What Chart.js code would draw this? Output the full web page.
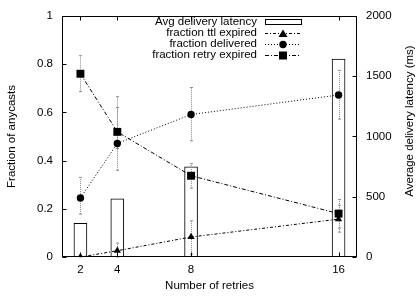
<!DOCTYPE html>
<html>
<head>
<meta charset="utf-8">
<script src="https://cdn.jsdelivr.net/npm/chart.js@4.4.1/dist/chart.umd.min.js"></script>
<style>
html,body{margin:0;padding:0;background:#fff;}
#wrap{width:417px;height:296px;position:relative;}
</style>
</head>
<body>
<div id="wrap"><canvas id="c" width="417" height="296"></canvas></div>
<script>
const retries = [2, 4, 8, 16];
const latencyMs = [279, 482, 748, 1642];
const ttlExpired = [0.0, 0.026, 0.083, 0.157];
const ttlLow = [0.0, 0.0, 0.012, 0.103];
const ttlHigh = [0.004, 0.058, 0.150, 0.215];
const delivered = [0.245, 0.471, 0.591, 0.672];
const deliveredLow = [0.178, 0.36, 0.482, 0.572];
const deliveredHigh = [0.33, 0.62, 0.703, 0.774];
const retryExpired = [0.760, 0.519, 0.337, 0.180];
const retryLow = [0.686, 0.45, 0.286, 0.12];
const retryHigh = [0.835, 0.665, 0.387, 0.238];
const xTicks = [2, 4, 8, 16];
const yTicks = [0, 0.2, 0.4, 0.6, 0.8, 1];
const y2Ticks = [0, 500, 1000, 1500, 2000];
const y2Title = 'Average delivery latency (ms)';

const FONT = "'Liberation Sans', Arial, sans-serif";
const FS = 11.5;
const pts = (ys) => retries.map((x, i) => ({x: x, y: ys[i]}));

const errorSets = [
  {low: ttlLow, high: ttlHigh},
  {low: deliveredLow, high: deliveredHigh},
  {low: retryLow, high: retryHigh}
];

const legendItems = [
  {label: 'Avg delivery latency', kind: 'bar'},
  {label: 'fraction ttl expired', kind: 'line', dash: [3,2,1,2], point: 'triangle'},
  {label: 'fraction delivered', kind: 'line', dash: [1,2], point: 'circle'},
  {label: 'fraction retry expired', kind: 'line', dash: [4,2,1,2], point: 'rect'}
];

const deco = {
  id: 'deco',
  afterDatasetDraw(chart, args) {
    if (args.meta.type !== 'bar') return;
    const ctx = chart.ctx, xs = chart.scales.x, ys = chart.scales.y;
    ctx.save();
    ctx.strokeStyle = '#8a8a8a';
    ctx.lineWidth = 1;
    errorSets.forEach(s => {
      retries.forEach((r, i) => {
        const px = Math.round(xs.getPixelForValue(r)) + 0.5;
        const y0 = ys.getPixelForValue(s.low[i]);
        const y1 = ys.getPixelForValue(s.high[i]);
        ctx.setLineDash([1, 1]);
        ctx.beginPath(); ctx.moveTo(px, y0); ctx.lineTo(px, y1); ctx.stroke();
        ctx.setLineDash([]);
        ctx.beginPath();
        ctx.moveTo(px - 1.5, y0); ctx.lineTo(px + 1.5, y0);
        ctx.moveTo(px - 1.5, y1); ctx.lineTo(px + 1.5, y1);
        ctx.stroke();
      });
    });
    ctx.restore();
  },
  afterDraw(chart) {
    const ctx = chart.ctx, a = chart.chartArea;
    const xs = chart.scales.x, ys = chart.scales.y, y2 = chart.scales.y2;
    ctx.save();
    ctx.strokeStyle = '#000';
    ctx.lineWidth = 1;
    ctx.setLineDash([]);
    const L = Math.round(a.left) + 0.5, R = Math.round(a.right) - 0.5;
    const T = Math.round(a.top) + 0.5, B = Math.round(a.bottom) - 0.5;
    ctx.strokeRect(L, T, R - L, B - T);
    ctx.beginPath();
    xTicks.forEach(v => {
      const px = Math.round(xs.getPixelForValue(v)) + 0.5;
      ctx.moveTo(px, B); ctx.lineTo(px, B - 4);
      ctx.moveTo(px, T); ctx.lineTo(px, T + 4);
    });
    yTicks.forEach(v => {
      const py = Math.round(ys.getPixelForValue(v)) + 0.5;
      ctx.moveTo(L, py); ctx.lineTo(L + 4, py);
    });
    y2Ticks.forEach(v => {
      const py = Math.round(y2.getPixelForValue(v)) + 0.5;
      ctx.moveTo(R, py); ctx.lineTo(R - 4, py);
    });
    ctx.stroke();

    // right axis title, reading bottom to top
    ctx.font = FS + 'px ' + FONT;
    ctx.fillStyle = '#000';
    ctx.save();
    ctx.translate(410, 121);
    ctx.rotate(-Math.PI / 2);
    ctx.textAlign = 'center';
    ctx.textBaseline = 'middle';
    ctx.fillText(y2Title, 0, 0);
    ctx.restore();

    // legend
    ctx.textAlign = 'right';
    ctx.textBaseline = 'middle';
    const rowY = [22, 33, 44, 55];
    legendItems.forEach((it, i) => {
      const y = rowY[i];
      ctx.fillText(it.label, 257, y);
      if (it.kind === 'bar') {
        ctx.strokeRect(265.5, y - 2.5, 36, 5);
      } else {
        ctx.setLineDash(it.dash);
        ctx.beginPath(); ctx.moveTo(265, y + 0.5); ctx.lineTo(301, y + 0.5); ctx.stroke();
        ctx.setLineDash([]);
        ctx.beginPath();
        if (it.point === 'circle') {
          ctx.arc(283, y + 0.5, 3.7, 0, Math.PI * 2);
        } else if (it.point === 'rect') {
          ctx.rect(279, y - 3.5, 8, 8);
        } else {
          ctx.moveTo(283, y - 3.5); ctx.lineTo(287.5, y + 4); ctx.lineTo(278.5, y + 4); ctx.closePath();
        }
        ctx.fill();
      }
    });
    ctx.restore();
  }
};

const lineDs = (label, data, dash, style, radius) => ({
  type: 'line', label, data: pts(data), yAxisID: 'y', order: 1,
  borderColor: '#000', borderWidth: 1, borderDash: dash, fill: false, tension: 0,
  pointStyle: style, pointRadius: radius, pointBackgroundColor: '#000', pointBorderColor: '#000',
  pointBorderWidth: 0
});

new Chart(document.getElementById('c'), {
  type: 'line',
  data: {
    datasets: [
      {
        type: 'bar', label: 'Avg delivery latency', data: pts(latencyMs), yAxisID: 'y2', order: 10,
        backgroundColor: '#fff', borderColor: '#000', borderWidth: 1, barThickness: 13
      },
      lineDs('fraction ttl expired', ttlExpired, [3,2,1,2], 'triangle', 4.2),
      lineDs('fraction delivered', delivered, [1,2], 'circle', 3.7),
      lineDs('fraction retry expired', retryExpired, [4,2,1,2], 'rect', 5.6)
    ]
  },
  options: {
    responsive: false,
    animation: false,
    layout: {padding: {top: 11, left: 0, right: 0, bottom: 0}},
    plugins: {legend: {display: false}, tooltip: {enabled: false}},
    scales: {
      x: {
        type: 'linear', min: 1, max: 17, offset: false,
        afterBuildTicks: s => { s.ticks = xTicks.map(v => ({value: v})); },
        afterFit: s => { s.height = 39; },
        grid: {display: false, drawTicks: false},
        border: {display: false},
        ticks: {padding: 6, color: '#000', font: {family: FONT, size: FS}, maxRotation: 0, autoSkip: false},
        title: {display: true, text: 'Number of retries', color: '#000', font: {family: FONT, size: FS}, padding: {top: 0, bottom: 3}}
      },
      y: {
        type: 'linear', position: 'left', min: 0, max: 1,
        afterBuildTicks: s => { s.ticks = yTicks.map(v => ({value: v})); },
        afterFit: s => { s.width = 62; },
        grid: {display: false, drawTicks: false},
        border: {display: false},
        ticks: {padding: 9, color: '#000', font: {family: FONT, size: FS}, callback: v => String(+v.toFixed(1))},
        title: {display: true, text: 'Fraction of anycasts', color: '#000', font: {family: FONT, size: FS}, padding: {top: 5, bottom: 0}}
      },
      y2: {
        type: 'linear', position: 'right', min: 0, max: 2000,
        afterBuildTicks: s => { s.ticks = y2Ticks.map(v => ({value: v})); },
        afterFit: s => { s.width = 60; },
        grid: {display: false, drawTicks: false},
        border: {display: false},
        ticks: {padding: 9, color: '#000', font: {family: FONT, size: FS}, callback: v => String(v)},
        title: {display: false}
      }
    }
  },
  plugins: [deco]
});
</script>
</body>
</html>
